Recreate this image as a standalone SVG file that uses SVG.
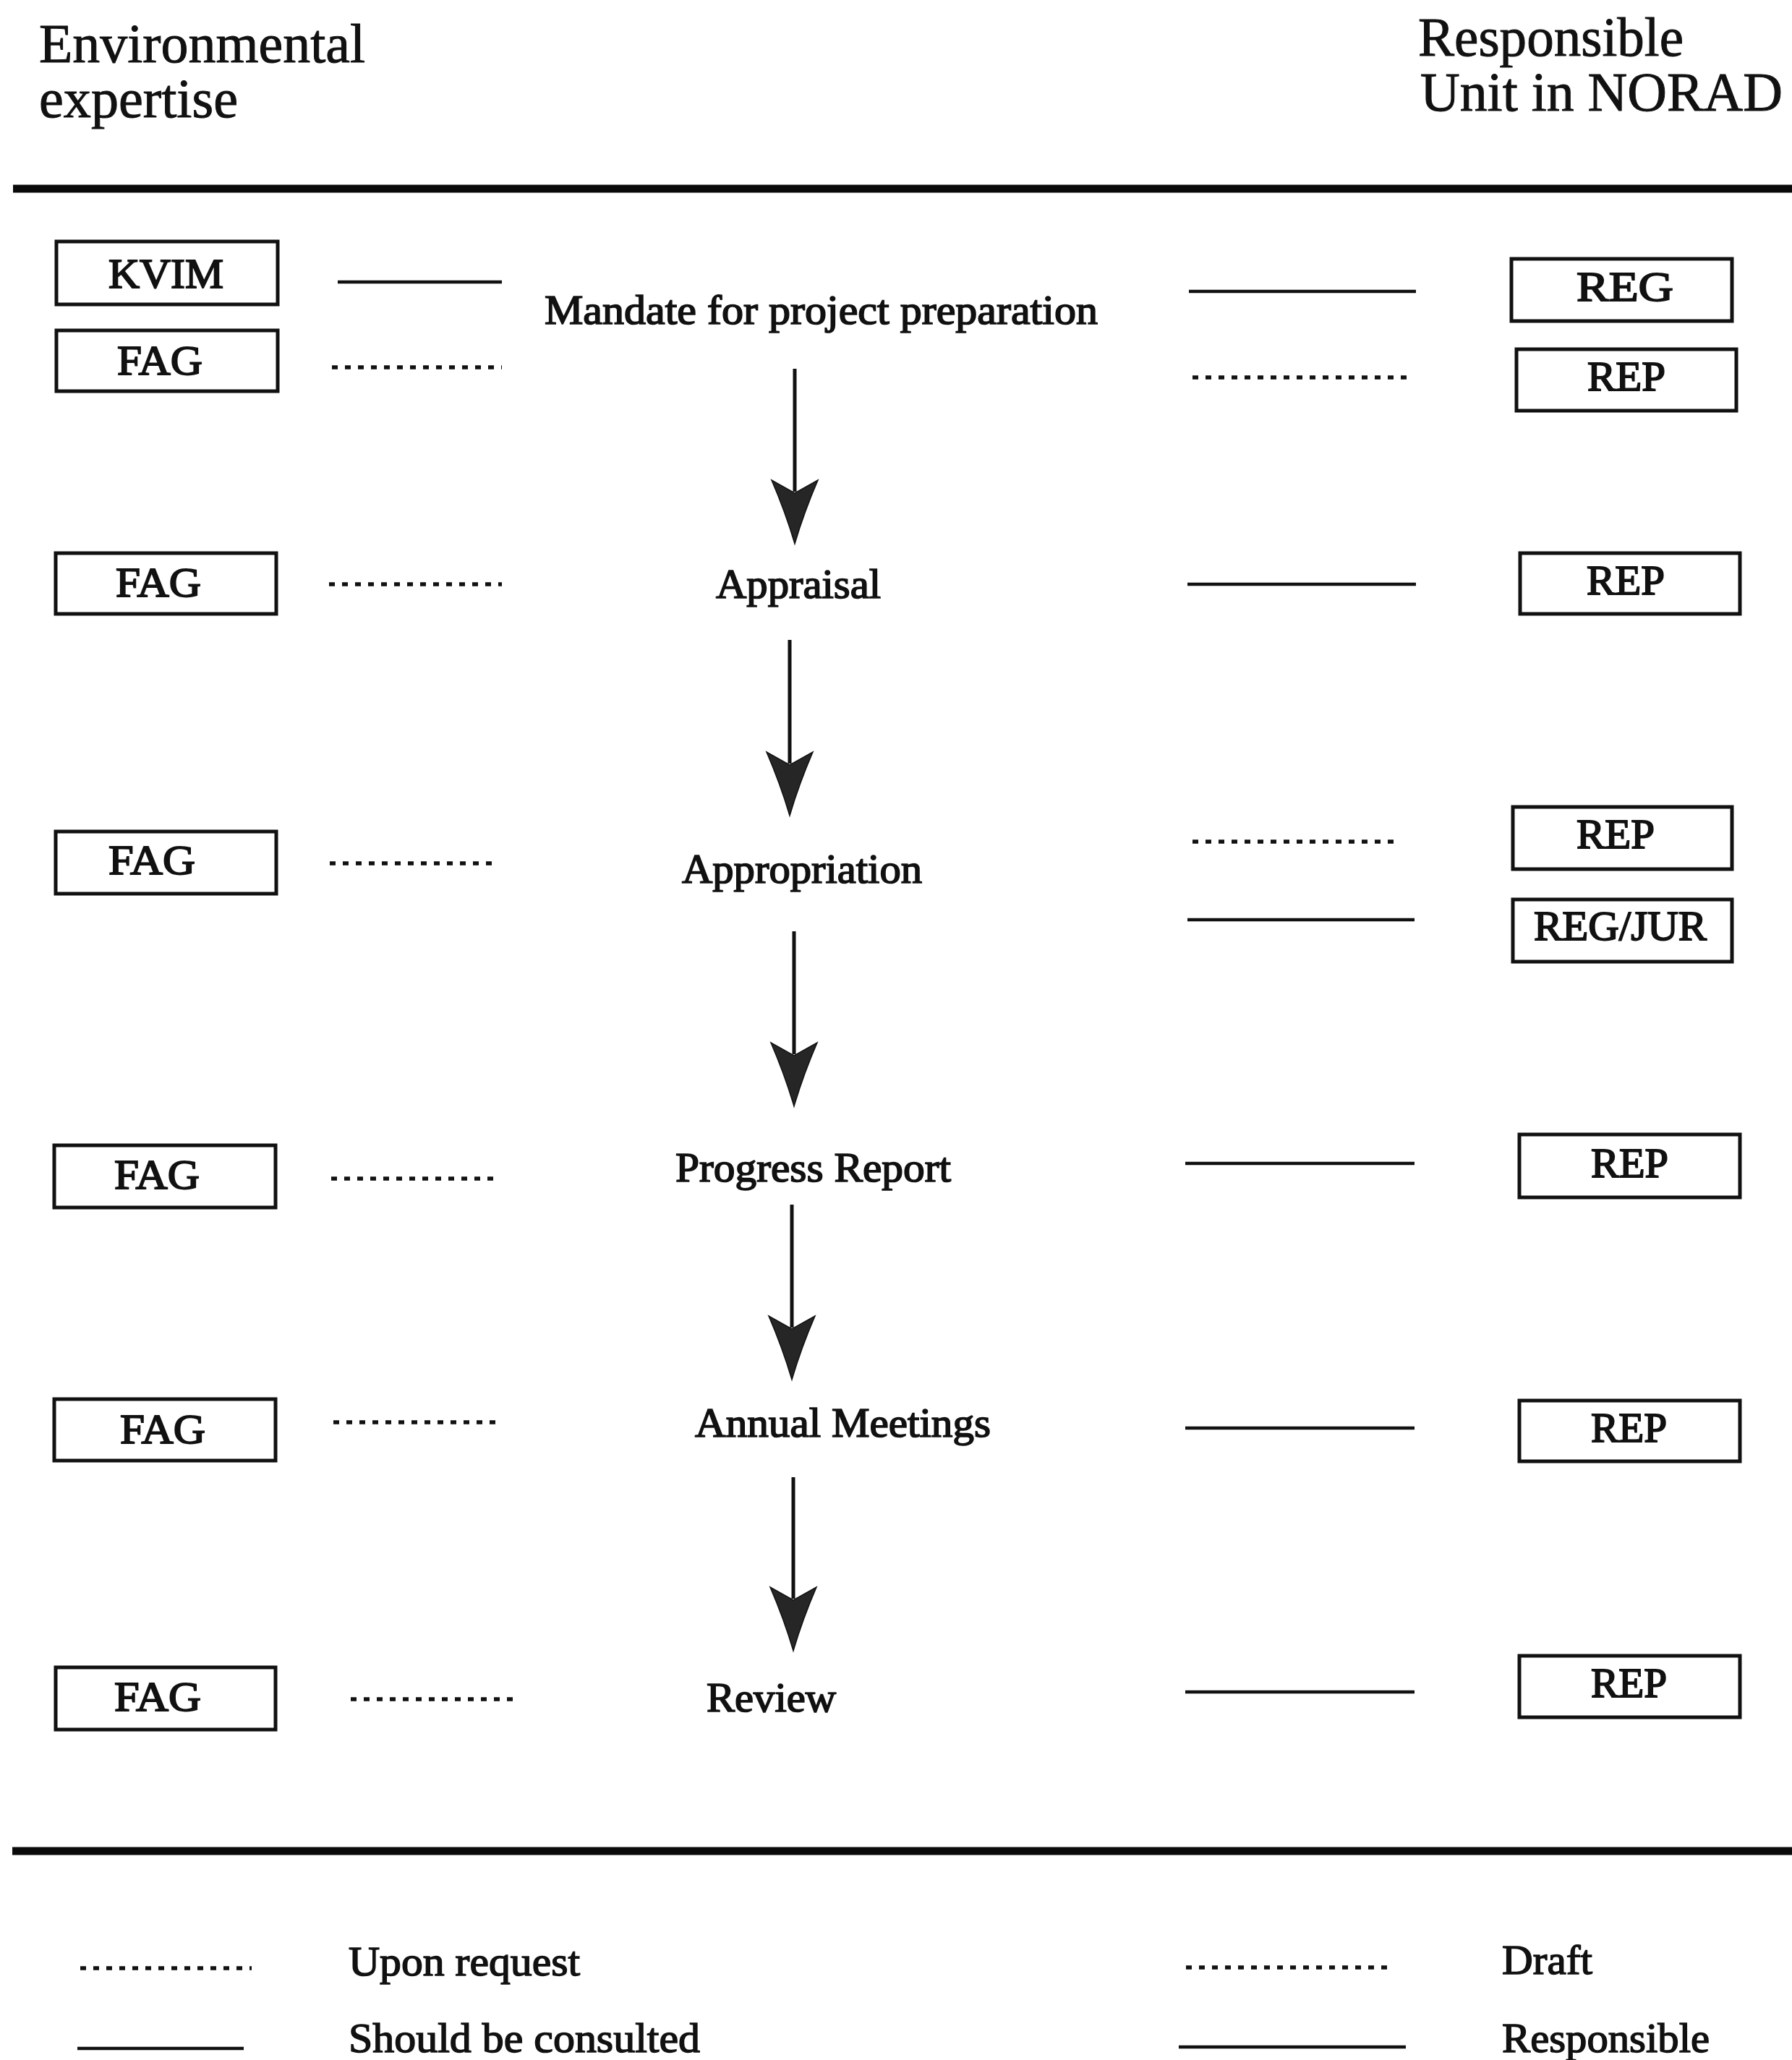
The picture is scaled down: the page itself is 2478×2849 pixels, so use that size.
<svg xmlns="http://www.w3.org/2000/svg" width="2478" height="2849" viewBox="0 0 2478 2849">
  <style>
    text { font-family: "Liberation Serif", "Times New Roman", serif; fill: #111; }
    .head { font-size: 76px; stroke: #111; stroke-width: 1; }
    .lbl { font-size: 58px; stroke: #111; stroke-width: 1.9; }
    .stage { font-size: 57px; stroke: #111; stroke-width: 1.7; }
    .leg { font-size: 57px; stroke: #111; stroke-width: 1.5; }
    .box { fill: #fff; stroke: #111; stroke-width: 5; }
    .rule { stroke: #0a0a0a; stroke-width: 11; }
    .solid { stroke: #111; stroke-width: 4.5; fill: none; }
    .dot { stroke: #111; stroke-width: 5.5; stroke-dasharray: 8 10; fill: none; }
    .shaft { stroke: #111; stroke-width: 5; fill: none; }
    .tip { fill: #262626; stroke: #111; stroke-width: 1.5; }
  </style>
  <defs>
    <!-- arrowhead with its point at the origin, pointing down -->
    <path id="head" class="tip" d="M0,0 Q-13,-44 -32,-88 L0,-70 L32,-88 Q13,-44 0,0 Z"/>
  </defs>

  <rect x="0" y="0" width="2478" height="2849" fill="#fff"/>

  <!-- column headings -->
  <g id="heading-left">
    <text class="head" x="54" y="86" textLength="451" lengthAdjust="spacingAndGlyphs">Environmental</text>
    <text class="head" x="54" y="162" textLength="275" lengthAdjust="spacingAndGlyphs">expertise</text>
  </g>
  <g id="heading-right">
    <text class="head" x="1961" y="77" textLength="367" lengthAdjust="spacingAndGlyphs">Responsible</text>
    <text class="head" x="1964" y="153" textLength="501" lengthAdjust="spacingAndGlyphs">Unit in NORAD</text>
  </g>

  <!-- horizontal rules -->
  <g id="rules">
    <line class="rule" x1="18" y1="261" x2="2478" y2="261"/>
    <line class="rule" x1="17" y1="2560" x2="2478" y2="2560"/>
  </g>

  <!-- stage labels -->
  <g id="stage-mandate"><text class="stage" x="753" y="448" textLength="765" lengthAdjust="spacingAndGlyphs">Mandate for project preparation</text></g>
  <g id="stage-appraisal"><text class="stage" x="990" y="827" textLength="228" lengthAdjust="spacingAndGlyphs">Appraisal</text></g>
  <g id="stage-appropriation"><text class="stage" x="943" y="1221" textLength="332" lengthAdjust="spacingAndGlyphs">Appropriation</text></g>
  <g id="stage-progress"><text class="stage" x="934" y="1634" textLength="381" lengthAdjust="spacingAndGlyphs">Progress Report</text></g>
  <g id="stage-annual"><text class="stage" x="961" y="1987" textLength="409" lengthAdjust="spacingAndGlyphs">Annual Meetings</text></g>
  <g id="stage-review"><text class="stage" x="977" y="2367" textLength="179" lengthAdjust="spacingAndGlyphs">Review</text></g>

  <!-- environmental expertise units -->
  <g id="kvim-1">
    <rect class="box" x="78" y="334" width="306" height="87"/>
    <text class="lbl" x="150" y="398" textLength="159" lengthAdjust="spacingAndGlyphs">KVIM</text>
  </g>
  <g id="fag-1">
    <rect class="box" x="78" y="457" width="306" height="84"/>
    <text class="lbl" x="162" y="518" textLength="118" lengthAdjust="spacingAndGlyphs">FAG</text>
  </g>
  <g id="fag-2">
    <rect class="box" x="77" y="765" width="305" height="84"/>
    <text class="lbl" x="160" y="825" textLength="118" lengthAdjust="spacingAndGlyphs">FAG</text>
  </g>
  <g id="fag-3">
    <rect class="box" x="77" y="1150" width="305" height="86"/>
    <text class="lbl" x="150" y="1209" textLength="120" lengthAdjust="spacingAndGlyphs">FAG</text>
  </g>
  <g id="fag-4">
    <rect class="box" x="75" y="1584" width="306" height="86"/>
    <text class="lbl" x="158" y="1644" textLength="118" lengthAdjust="spacingAndGlyphs">FAG</text>
  </g>
  <g id="fag-5">
    <rect class="box" x="75" y="1935" width="306" height="85"/>
    <text class="lbl" x="166" y="1996" textLength="118" lengthAdjust="spacingAndGlyphs">FAG</text>
  </g>
  <g id="fag-6">
    <rect class="box" x="77" y="2306" width="304" height="86"/>
    <text class="lbl" x="158" y="2366" textLength="120" lengthAdjust="spacingAndGlyphs">FAG</text>
  </g>

  <!-- responsible units -->
  <g id="reg-1">
    <rect class="box" x="2090" y="358" width="305" height="86"/>
    <text class="lbl" x="2180" y="416" textLength="134" lengthAdjust="spacingAndGlyphs">REG</text>
  </g>
  <g id="rep-1">
    <rect class="box" x="2097" y="483" width="304" height="85"/>
    <text class="lbl" x="2195" y="540" textLength="108" lengthAdjust="spacingAndGlyphs">REP</text>
  </g>
  <g id="rep-2">
    <rect class="box" x="2102" y="765" width="304" height="84"/>
    <text class="lbl" x="2194" y="822" textLength="108" lengthAdjust="spacingAndGlyphs">REP</text>
  </g>
  <g id="rep-3">
    <rect class="box" x="2092" y="1116" width="303" height="86"/>
    <text class="lbl" x="2180" y="1173" textLength="108" lengthAdjust="spacingAndGlyphs">REP</text>
  </g>
  <g id="regjur-3">
    <rect class="box" x="2092" y="1244" width="303" height="86"/>
    <text class="lbl" x="2121" y="1300" textLength="239" lengthAdjust="spacingAndGlyphs">REG/JUR</text>
  </g>
  <g id="rep-4">
    <rect class="box" x="2101" y="1569" width="305" height="87"/>
    <text class="lbl" x="2200" y="1628" textLength="107" lengthAdjust="spacingAndGlyphs">REP</text>
  </g>
  <g id="rep-5">
    <rect class="box" x="2101" y="1937" width="305" height="84"/>
    <text class="lbl" x="2200" y="1994" textLength="105" lengthAdjust="spacingAndGlyphs">REP</text>
  </g>
  <g id="rep-6">
    <rect class="box" x="2101" y="2290" width="305" height="85"/>
    <text class="lbl" x="2200" y="2347" textLength="105" lengthAdjust="spacingAndGlyphs">REP</text>
  </g>

  <!-- connectors: involvement lines and the flow between stages -->
  <g id="connectors">
    <line class="solid" x1="467" y1="390" x2="694" y2="390"/>
    <line class="dot" x1="459" y1="508" x2="694" y2="508"/>
    <line class="solid" x1="1644" y1="403" x2="1958" y2="403"/>
    <line class="dot" x1="1649" y1="522" x2="1953" y2="522"/>

    <line class="dot" x1="455" y1="808" x2="694" y2="808"/>
    <line class="solid" x1="1642" y1="808" x2="1958" y2="808"/>

    <line class="dot" x1="456" y1="1194" x2="684" y2="1194"/>
    <line class="dot" x1="1649" y1="1164" x2="1936" y2="1164"/>
    <line class="solid" x1="1642" y1="1272" x2="1956" y2="1272"/>

    <line class="dot" x1="458" y1="1630" x2="683" y2="1630"/>
    <line class="solid" x1="1639" y1="1609" x2="1956" y2="1609"/>

    <line class="dot" x1="461" y1="1967" x2="687" y2="1967"/>
    <line class="solid" x1="1639" y1="1975" x2="1956" y2="1975"/>

    <line class="dot" x1="485" y1="2350" x2="713" y2="2350"/>
    <line class="solid" x1="1639" y1="2340" x2="1956" y2="2340"/>

    <line class="shaft" x1="1099" y1="510" x2="1099" y2="680"/>
    <use href="#head" transform="translate(1099,752)"/>
    <line class="shaft" x1="1092" y1="885" x2="1092" y2="1056"/>
    <use href="#head" transform="translate(1092,1128)"/>
    <line class="shaft" x1="1098" y1="1288" x2="1098" y2="1458"/>
    <use href="#head" transform="translate(1098,1530)"/>
    <line class="shaft" x1="1095" y1="1666" x2="1095" y2="1836"/>
    <use href="#head" transform="translate(1095,1908)"/>
    <line class="shaft" x1="1097" y1="2043" x2="1097" y2="2211"/>
    <use href="#head" transform="translate(1097,2283)"/>
  </g>

  <!-- key -->
  <g id="legend">
    <line class="dot" x1="111" y1="2722" x2="348" y2="2722"/>
    <text class="leg" x="482" y="2732" textLength="320" lengthAdjust="spacingAndGlyphs">Upon request</text>
    <line class="solid" x1="107" y1="2833" x2="337" y2="2833"/>
    <text class="leg" x="482" y="2838" textLength="486" lengthAdjust="spacingAndGlyphs">Should be consulted</text>
    <line class="dot" x1="1640" y1="2721" x2="1927" y2="2721"/>
    <text class="leg" x="2077" y="2730" textLength="125" lengthAdjust="spacingAndGlyphs">Draft</text>
    <line class="solid" x1="1630" y1="2831" x2="1944" y2="2831"/>
    <text class="leg" x="2077" y="2838" textLength="287" lengthAdjust="spacingAndGlyphs">Responsible</text>
  </g>
</svg>
